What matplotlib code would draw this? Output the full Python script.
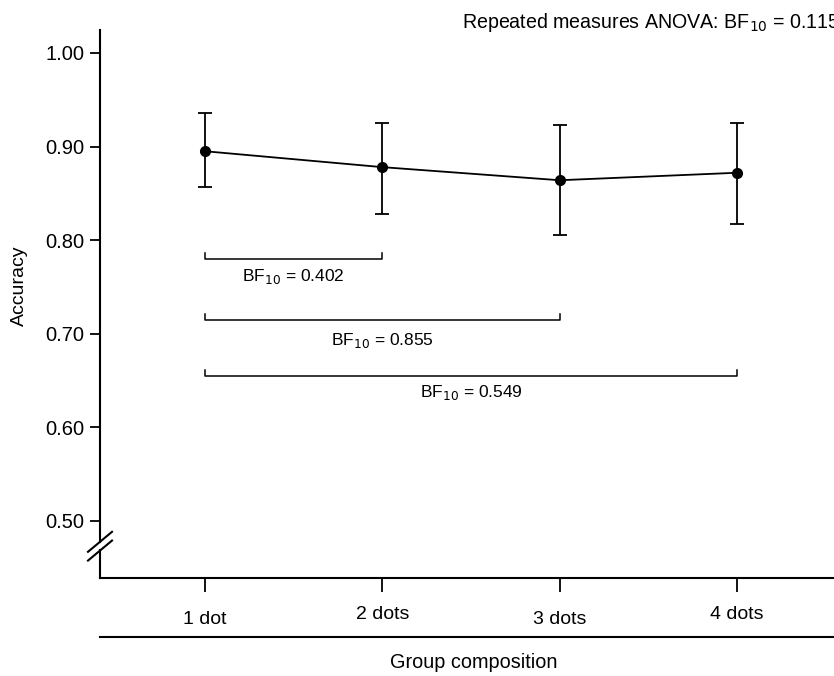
import matplotlib
matplotlib.use("Agg")
import matplotlib.pyplot as plt
from matplotlib.lines import Line2D
import matplotlib.transforms as mtransforms

plt.rcParams['font.family'] = ['Liberation Sans', 'DejaVu Sans']

# data
groups = ['1 dot', '2 dots', '3 dots', '4 dots']
accuracy = [0.895, 0.878, 0.864, 0.872]
ci_lower = [0.857, 0.828, 0.806, 0.817]
ci_upper = [0.936, 0.925, 0.923, 0.925]
y_ticks = [0.50, 0.60, 0.70, 0.80, 0.90, 1.00]

# pairwise comparisons (index a, index b, BF10)
pair_a = [0, 0, 0]
pair_b = [1, 2, 3]
pair_bf = ['0.402', '0.855', '0.549']
anova_bf = '0.115'

x = list(range(1, len(groups) + 1))

fig = plt.figure(figsize=(8.34, 6.76), dpi=100)
ax = fig.add_axes([0.1199, 0.145, 0.8801, 0.8107])

yerr = [[m - lo for m, lo in zip(accuracy, ci_lower)],
        [hi - m for m, hi in zip(accuracy, ci_upper)]]
ax.errorbar(x, accuracy, yerr=yerr, color='black', marker='o', ms=7,
            lw=1.3, elinewidth=1.3, capsize=5, capthick=1.3, clip_on=False)

ax.set_xlim(0.408, 4.547)
ax.set_ylim(0.439, 1.0246)
ax.set_xticks(x)
ax.set_xticklabels(groups)
ax.set_yticks(y_ticks)
ax.set_yticklabels(['%.2f' % v for v in y_ticks])
ax.tick_params(axis='x', direction='out', length=10, width=1.3, pad=14, labelsize=14)
ax.tick_params(axis='y', direction='out', length=7, width=1.3, pad=4, labelsize=14.5)

# slight stagger of the x labels as in the original
for i, lab in enumerate(ax.get_xticklabels()):
    if i % 2 == 1:
        off = mtransforms.ScaledTranslation(0, 5 / 100, fig.dpi_scale_trans)
        lab.set_transform(lab.get_transform() + off)

for s in ['top', 'right', 'left']:
    ax.spines[s].set_visible(False)
ax.spines['bottom'].set_linewidth(1.5)

# left spine with axis break
brk = 0.058
gap = 0.007
ax.plot([0, 0], [brk + gap, 1], transform=ax.transAxes, color='black', lw=1.5, clip_on=False)
ax.plot([0, 0], [0, brk - gap], transform=ax.transAxes, color='black', lw=1.5, clip_on=False)
dx = 12 / 734
dy = 10 / 548
for c in [brk + gap + 0.001, brk - gap - 0.001]:
    ax.plot([-dx, dx], [c - dy, c + dy], transform=ax.transAxes, color='black', lw=1.5, clip_on=False)

ax.set_ylabel('Accuracy', fontsize=14)
ax.yaxis.set_label_coords(-0.098, 0.533)

# comparison brackets
bracket_y = [0.780, 0.715, 0.655]
label_y = [0.761, 0.693, 0.637]
tip = 0.006
for a, b, bf, by, ly in zip(pair_a, pair_b, pair_bf, bracket_y, label_y):
    xa, xb = x[a], x[b]
    ax.plot([xa, xa, xb, xb], [by + tip, by, by, by + tip], color='black', lw=1.1)
    ax.text((xa + xb) / 2, ly, r'BF$_{10}$ = ' + bf, ha='center', va='center', fontsize=12.5)

# second rule under the tick labels and the axis title
fig.add_artist(Line2D([100 / 834, 1], [1 - 637 / 676, 1 - 637 / 676],
                      transform=fig.transFigure, color='black', lw=1.5))
fig.text(474 / 834, 1 - 663 / 676, 'Group composition', ha='center', va='center', fontsize=14.3)

fig.text(462 / 834, 1 - 22 / 676, r'Repeated measures ANOVA: BF$_{10}$ = ' + anova_bf,
         ha='left', va='center', fontsize=14.1)

fig.savefig('out.png', dpi=100)
